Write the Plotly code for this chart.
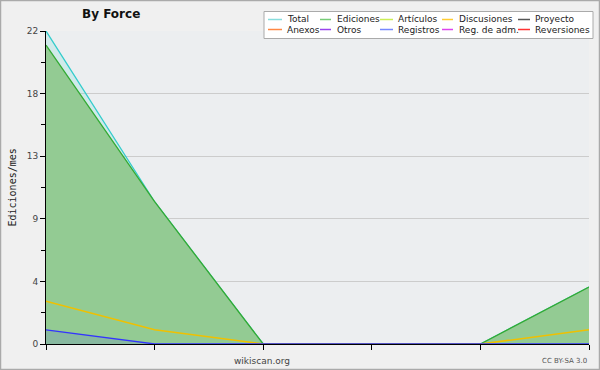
import plotly.graph_objects as go

# ---- data ----
periods = [0, 1, 2, 3, 4, 5]
total = [22, 10, 0, 0, 0, 4]
ediciones = [21, 10, 0, 0, 0, 4]
discusiones = [3, 1, 0, 0, 0, 1]
registros = [1, 0, 0, 0, 0, 0]

y_tickvals = [0, 4.4, 8.8, 13.2, 17.6, 22]
y_ticktext = ["0", "4", "9", "13", "18", "22"]
y_minorvals = [2.2, 6.6, 11.0, 15.4, 19.8]

legend_row1 = ["Total", "Ediciones", "Artículos", "Discusiones", "Proyecto"]
legend_row2 = ["Anexos", "Otros", "Registros", "Reg. de adm.", "Reversiones"]
legend_col1 = ["#88dddd", "#77cc77", "#ccee55", "#ffcc33", "#555555"]
legend_col2 = ["#ff8844", "#9944ee", "#7788ff", "#dd44ee", "#ff3333"]

W, H = 600, 370
L, R, T, B = 46, 11, 31, 26
PW, PH = W - L - R, H - T - B


def px(x):
    return (x - L) / PW


def py(y):
    return (H - B - y) / PH


fig = go.Figure()
fig.add_trace(go.Scatter(x=periods, y=total, mode="lines", name="Total",
                         line=dict(color="#33cccc", width=1.3),
                         fill="tozeroy", fillcolor="rgba(110,225,215,0.22)"))
fig.add_trace(go.Scatter(x=periods, y=ediciones, mode="lines", name="Ediciones",
                         line=dict(color="#33aa33", width=1.3),
                         fill="tozeroy", fillcolor="#93cb93"))
fig.add_trace(go.Scatter(x=periods, y=discusiones, mode="lines", name="Discusiones",
                         line=dict(color="#f0c000", width=1.5)))
fig.add_trace(go.Scatter(x=periods, y=registros, mode="lines", name="Registros",
                         line=dict(color="#3333ff", width=1.3),
                         fill="tozeroy", fillcolor="rgba(60,60,255,0.12)"))

shapes = []
annotations = []

# outer border
shapes.append(dict(type="rect", xref="paper", yref="paper",
                   x0=px(0.5), x1=px(599.5), y0=py(369.5), y1=py(0.5),
                   line=dict(color="#aaaaaa", width=1.5), layer="below"))

# legend box
shapes.append(dict(type="rect", xref="paper", yref="paper",
                   x0=px(264), x1=px(593), y0=py(38.5), y1=py(11.5),
                   line=dict(color="#aaaaaa", width=1), fillcolor="white",
                   layer="above"))
sw_x = [(268, 282), (320, 331), (380, 393), (442, 453), (518, 530)]
txt_x = [285, 335, 396, 457, 533]
for row, (names, cols, yy) in enumerate([(legend_row1, legend_col1, 19.5),
                                         (legend_row2, legend_col2, 29.5)]):
    for i, (n, c) in enumerate(zip(names, cols)):
        shapes.append(dict(type="line", xref="paper", yref="paper",
                           x0=px(sw_x[i][0]), x1=px(sw_x[i][1]),
                           y0=py(yy), y1=py(yy),
                           line=dict(color=c, width=1.5), layer="above"))
        annotations.append(dict(text=n, xref="paper", yref="paper",
                                x=px(txt_x[i]), y=py(yy), xanchor="left",
                                yanchor="middle", showarrow=False,
                                font=dict(family="DejaVu Sans", size=9,
                                          color="#222222")))

# title
annotations.append(dict(text="<b>By Force</b>", xref="paper", yref="paper",
                        x=px(111), y=py(14), xanchor="center", yanchor="middle",
                        showarrow=False,
                        font=dict(family="DejaVu Sans", size=12, color="#111111")))
# y title
annotations.append(dict(text="Ediciones/mes", xref="paper", yref="paper",
                        x=px(12), y=py(187.5), xanchor="center", yanchor="middle",
                        textangle=-90, showarrow=False,
                        font=dict(family="DejaVu Sans Mono", size=10, color="#222222")))
# footer
annotations.append(dict(text="wikiscan.org", xref="paper", yref="paper",
                        x=px(262), y=py(361), xanchor="center", yanchor="middle",
                        showarrow=False,
                        font=dict(family="DejaVu Sans", size=9, color="#444444")))
annotations.append(dict(text="CC BY-SA 3.0", xref="paper", yref="paper",
                        x=px(589), y=py(361), xanchor="right", yanchor="middle",
                        showarrow=False,
                        font=dict(family="DejaVu Sans", size=7, color="#555555")))

fig.update_layout(
    width=W, height=H,
    margin=dict(l=L, r=R, t=T, b=B),
    paper_bgcolor="#f0f0f0",
    plot_bgcolor="#eceef0",
    showlegend=False,
    shapes=shapes,
    annotations=annotations,
    xaxis=dict(range=[0, 5], tickvals=periods, showticklabels=False,
               ticks="outside", ticklen=5, tickcolor="black",
               showline=True, linecolor="black", linewidth=1,
               showgrid=False, zeroline=False, fixedrange=True),
    yaxis=dict(range=[0, 22], tickvals=y_tickvals, ticktext=y_ticktext,
               ticks="outside", ticklen=5, tickcolor="black",
               showline=True, linecolor="black", linewidth=1,
               showgrid=True, gridcolor="#cccccc", gridwidth=1,
               zeroline=False,
               tickfont=dict(family="DejaVu Sans", size=9, color="#444444"),
               minor=dict(tickvals=y_minorvals, ticks="outside", ticklen=4,
                          tickcolor="black", showgrid=False),
               fixedrange=True),
)

fig.write_html("out.html", config={"displayModeBar": False},
               post_script="document.body.style.margin='0px';document.body.style.overflow='hidden';")
